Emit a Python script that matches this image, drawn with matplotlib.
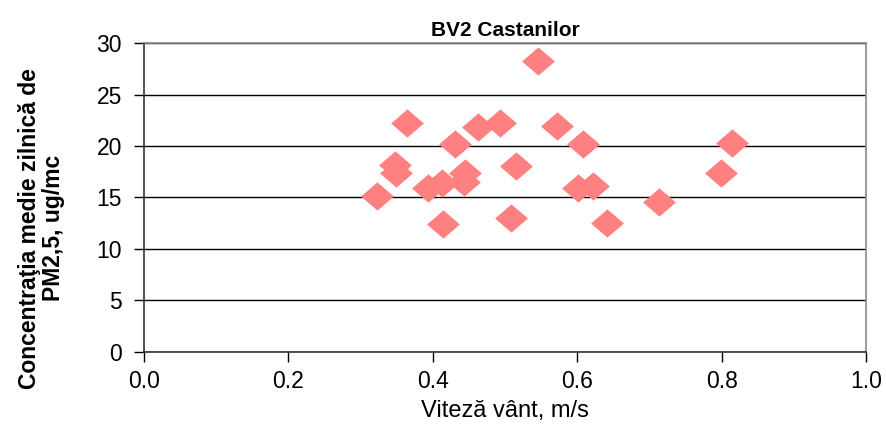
import numpy as np
import matplotlib.pyplot as plt
from matplotlib.path import Path

plt.rcParams['font.family'] = ['Liberation Sans', 'DejaVu Sans']

# wind speed (m/s) and daily mean PM2.5 (ug/mc)
viteza = [0.323, 0.348, 0.349, 0.364, 0.393, 0.413, 0.414, 0.431, 0.445, 0.443,
          0.463, 0.493, 0.508, 0.515, 0.546, 0.572, 0.608, 0.601, 0.622, 0.641,
          0.713, 0.799, 0.814]
pm25 = [15.1, 18.2, 17.4, 22.2, 15.9, 16.4, 12.4, 20.2, 17.4, 16.5,
        21.8, 22.2, 13.0, 18.1, 28.3, 21.9, 20.2, 15.9, 16.1, 12.5,
        14.6, 17.4, 20.3]

# slightly flattened diamond like the Excel marker
diamond = Path([(-1, 0), (0, 0.86), (1, 0), (0, -0.86), (-1, 0)],
               [Path.MOVETO, Path.LINETO, Path.LINETO, Path.LINETO, Path.CLOSEPOLY])

fig = plt.figure(figsize=(8.86, 4.26), dpi=100)
ax = fig.add_axes([0.1625, 0.174, 0.815, 0.725])

ax.scatter(viteza, pm25, marker=diamond, s=560, color='#ff8080', linewidths=0, zorder=3)

ax.set_xlim(0, 1.0)
ax.set_ylim(0, 30)
ax.set_xticks(np.arange(0, 1.01, 0.2))
ax.set_xticklabels(['0.0', '0.2', '0.4', '0.6', '0.8', '1.0'])
ax.set_yticks(np.arange(0, 31, 5))
ax.yaxis.grid(True, color='black', linewidth=1.0)
ax.set_axisbelow(True)

ax.tick_params(axis='both', direction='out', length=7, width=1, labelsize=16.5,
               colors='black')
ax.tick_params(axis='y', pad=9)
ax.tick_params(axis='x', pad=6)
ax.spines['left'].set_color('#333333')
ax.spines['bottom'].set_color('#333333')
ax.spines['top'].set_color('#888888')
ax.spines['right'].set_color('#888888')
for s in ax.spines.values():
    s.set_linewidth(1.2)

ax.set_title('BV2 Castanilor', fontsize=15, fontweight='bold', pad=5)
ax.set_xlabel('Viteză vânt, m/s', fontsize=17, labelpad=5)
ax.set_ylabel('Concentraţia medie zilnică de\nPM2,5, ug/mc', fontsize=16.5,
              fontweight='bold', linespacing=1.05)
ax.yaxis.set_label_coords(-0.11, 0.40)

fig.savefig('out.png', dpi=100)
